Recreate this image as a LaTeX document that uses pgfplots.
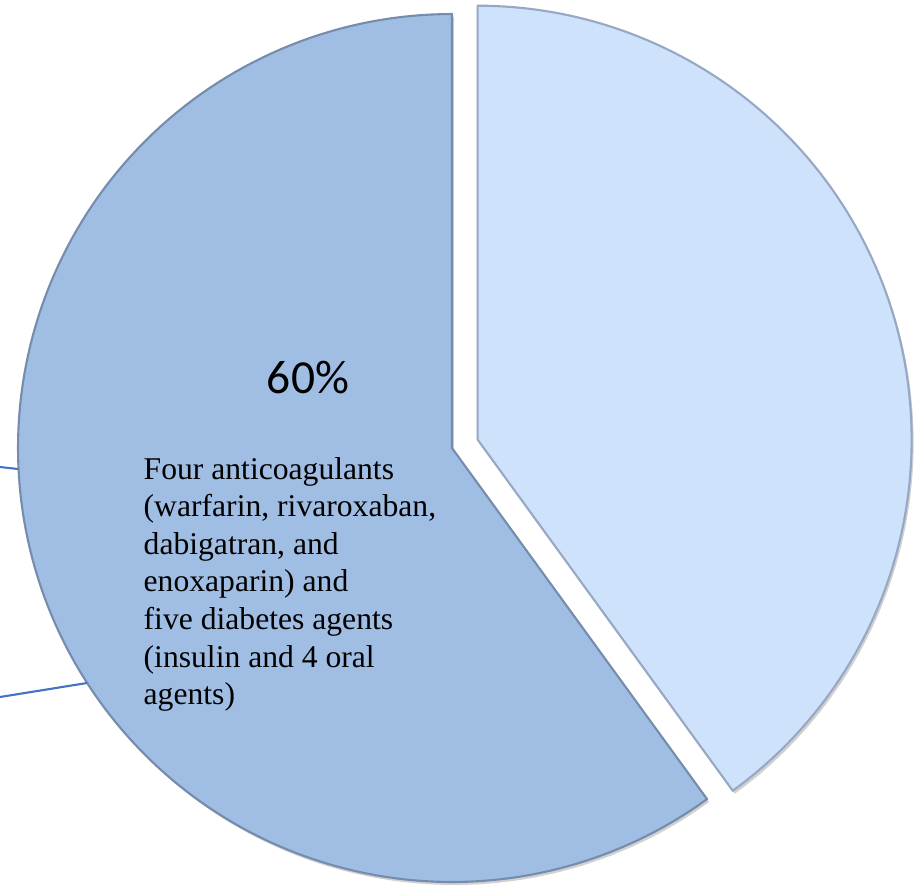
\documentclass[border=0pt]{standalone}
\usepackage{pgfplots}
\pgfplotsset{compat=1.18}
\usepackage{pgfplotstable}
\usepackage{fontspec}
\setmainfont{Liberation Serif}
\newfontfamily\carlito{Carlito}

\definecolor{sliceA}{RGB}{207,226,251}
\definecolor{sliceB}{RGB}{160,190,228}
\definecolor{edgeA}{RGB}{150,168,195}
\definecolor{edgeB}{RGB}{118,140,172}
\definecolor{callout}{RGB}{68,114,196}

\pgfplotstableread{
slice value
other 40
anticoag 60
}\piedata

\begin{document}%
\begin{tikzpicture}
\pgfplotstablegetelem{0}{value}\of\piedata \edef\va{\pgfplotsretval}
\pgfplotstablegetelem{1}{value}\of\piedata \edef\vb{\pgfplotsretval}
\pgfmathsetmacro\total{\va+\vb}
\pgfmathsetmacro\aStart{90}
\pgfmathsetmacro\aMid{90-\va/\total*360}
\pgfmathsetmacro\aEnd{90-360}
\pgfmathsetmacro\aHalf{90-\va/\total*180}
\def\cx{452}\def\cy{-448}\def\R{434}\def\expl{27}
\pgfmathsetmacro\ex{\cx+\expl*cos(\aHalf)}
\pgfmathsetmacro\ey{\cy+\expl*sin(\aHalf)}
\begin{axis}[
  scale only axis, width=9.16cm, height=8.84cm,
  xmin=0, xmax=916, ymin=-884, ymax=0,
  hide axis, clip=true,
]
% shadows
\addplot[draw=none, fill=black, fill opacity=0.18, domain=\aMid:\aStart, samples=120, variable=\t]
  ({\ex+2+\R*cos(t)},{\ey-3+\R*sin(t)}) -- (axis cs:\ex+2,\ey-3) -- cycle;
\addplot[draw=none, fill=black, fill opacity=0.18, domain=\aEnd:\aMid, samples=160, variable=\t]
  ({\cx+2+\R*cos(t)},{\cy-3+\R*sin(t)}) -- (axis cs:\cx+2,\cy-3) -- cycle;
% slice 40 (exploded)
\addplot[draw=edgeA, line width=0.6pt, fill=sliceA, domain=\aMid:\aStart, samples=120, variable=\t, line join=round]
  ({\ex+\R*cos(t)},{\ey+\R*sin(t)}) -- (axis cs:\ex,\ey) -- cycle;
% slice 60
\addplot[draw=edgeB, line width=0.6pt, fill=sliceB, domain=\aEnd:\aMid, samples=160, variable=\t, line join=round]
  ({\cx+\R*cos(t)},{\cy+\R*sin(t)}) -- (axis cs:\cx,\cy) -- cycle;
% callout lines
\addplot[callout, line width=0.6pt] coordinates {(0,-467) (18,-469)};
\addplot[callout, line width=0.6pt] coordinates {(0,-697) (87,-683)};
% labels
\node[font=\carlito\fontsize{13.5}{16}\selectfont] at (axis cs:308,-378) {60\%};
\node[anchor=north west, inner sep=0pt, align=left, font=\fontsize{9}{10.7}\selectfont]
  at (axis cs:143,-456.5) {Four anticoagulants\\(warfarin, rivaroxaban,\\dabigatran, and\\enoxaparin) and\\five diabetes agents\\(insulin and 4 oral\\agents)};
\end{axis}
\pgfresetboundingbox
\useasboundingbox (current axis.south west) rectangle (current axis.north east);
\end{tikzpicture}%
\end{document}
